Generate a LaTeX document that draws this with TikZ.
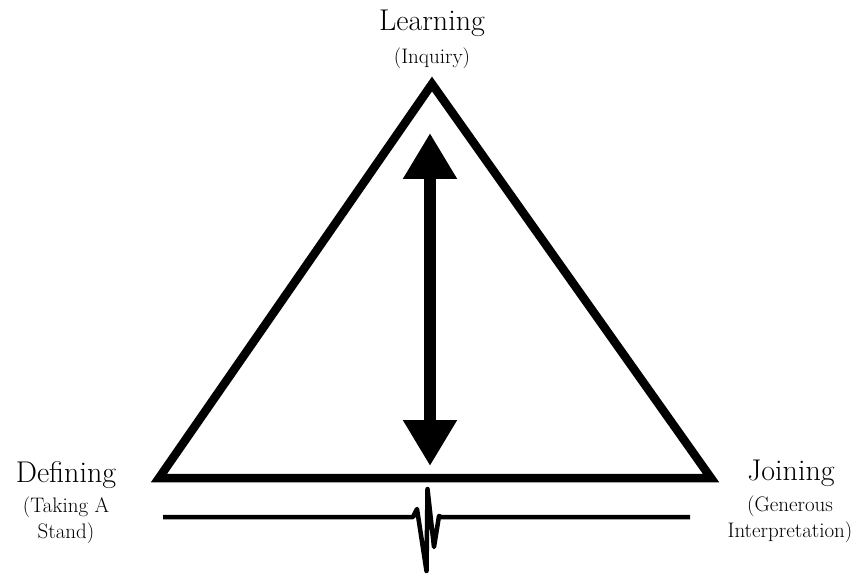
\documentclass[tikz,border=0pt]{standalone}
\usetikzlibrary{arrows.meta}

\tikzset{
  corner/.style={font=\fontsize{30}{33}\selectfont,inner sep=0pt},
  gloss/.style={font=\fontsize{21}{26}\selectfont,inner sep=0pt,align=center},
}

\begin{document}
\begin{tikzpicture}[x=1pt,y=-1pt]
\useasboundingbox (0,0) rectangle (860,575);
% corners of the triangle
\coordinate (top) at (432,84);
\coordinate (left) at (159,478);
\coordinate (right) at (711,478);
\draw[line width=8.5pt,line join=miter] (top) -- (left) -- (right) -- cycle;
% double arrow
\coordinate (arrTop) at (430,133);
\coordinate (arrBot) at (430,466);
\draw[line width=12pt,{Triangle[width=51pt,length=46pt]}-{Triangle[width=51pt,length=46pt]}] (arrTop) -- (arrBot);
% broken line under the base
\coordinate (zzL) at (163,517);
\coordinate (zzR) at (690,517);
\draw[line width=4.5pt,line join=round] (zzL) -- (413,517) -- (417,509) -- (426.5,571) -- (427.5,489)
  -- (434,547) -- (439,516) -- (441,517) -- (zzR);
% labels
\node[corner,anchor=base] (learning) at (432,31) {Learning};
\node[gloss,anchor=base] (inquiry) at (432,64) {(Inquiry)};
\node[corner,anchor=base] (defining) at (66,482) {Defining};
\node[gloss,anchor=base] (stand) at (66,538) {(Taking A\\Stand)};
\node[corner,anchor=base] (joining) at (791,480) {Joining};
\node[gloss,anchor=base] (generous) at (790,537) {(Generous\\Interpretation)};
\end{tikzpicture}
\end{document}
